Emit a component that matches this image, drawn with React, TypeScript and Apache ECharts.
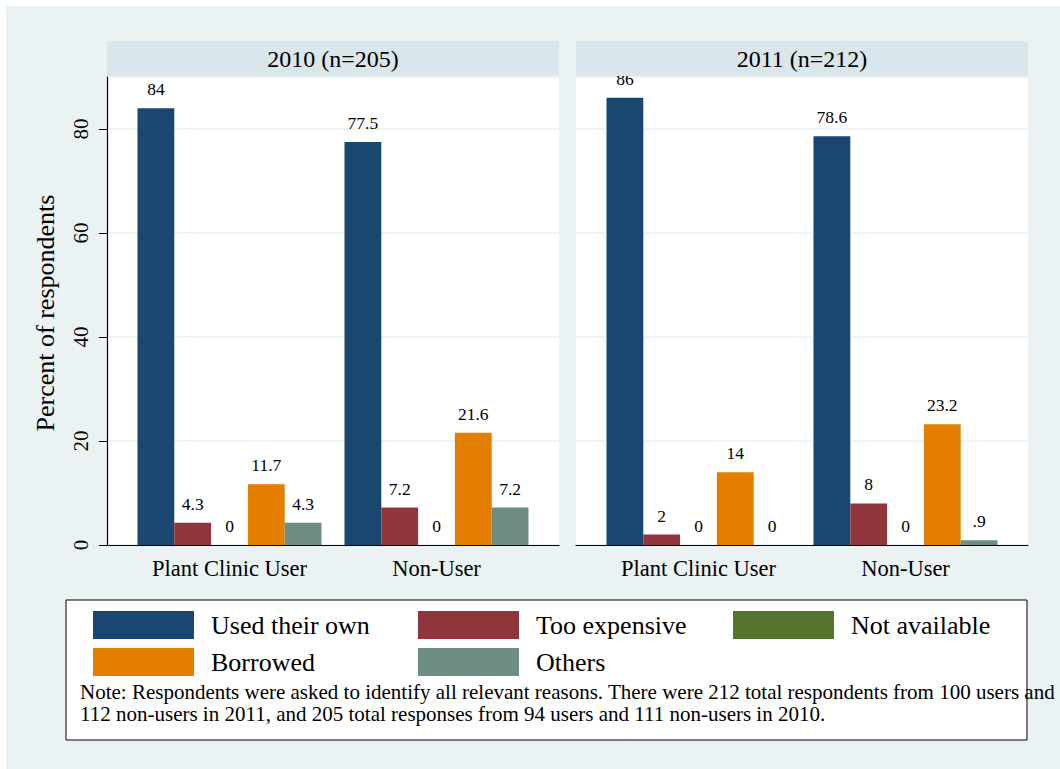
import React, { useEffect, useRef } from "react";
import * as echarts from "echarts";

const categories = ["Plant Clinic User", "Non-User"];
const seriesNames = ["Used their own", "Too expensive", "Not available", "Borrowed", "Others"];
const seriesColors = ["#1a476f", "#90353b", "#55752f", "#e37e00", "#6e8e84"];
const panelTitles = ["2010 (n=205)", "2011 (n=212)"];

const usedOwn2010 = [84, 77.5];
const tooExpensive2010 = [4.3, 7.2];
const notAvailable2010 = [0, 0];
const borrowed2010 = [11.7, 21.6];
const others2010 = [4.3, 7.2];

const usedOwn2011 = [86, 78.6];
const tooExpensive2011 = [2, 8];
const notAvailable2011 = [0, 0];
const borrowed2011 = [14, 23.2];
const others2011 = [0, 0.9];

const yTickValues = [0, 20, 40, 60, 80];

const noteLines = [
  "Note: Respondents were asked to identify all relevant reasons. There were 212 total respondents from 100 users and",
  "112 non-users in 2011, and 205 total responses from 94 users and 111 non-users in 2010.",
];

const FONT = "Liberation Serif, Times New Roman, serif";

export default function App() {
  const ref = useRef<HTMLDivElement>(null);

  useEffect(() => {
    if (!ref.current) return;
    const chart = echarts.init(ref.current, undefined, { renderer: "svg" });

    const panelData = [
      [usedOwn2010, tooExpensive2010, notAvailable2010, borrowed2010, others2010],
      [usedOwn2011, tooExpensive2011, notAvailable2011, borrowed2011, others2011],
    ];

    const panelLeft = [107, 576];
    const panelWidth = 452;
    const plotTop = 77;
    const plotHeight = 468;
    const barInset = 19;

    const grids: any[] = [];
    const xAxes: any[] = [];
    const yAxes: any[] = [];
    const series: any[] = [];

    // frame grids
    panelLeft.forEach((l, i) => {
      grids.push({
        left: l,
        top: plotTop,
        width: panelWidth,
        height: plotHeight,
        show: true,
        backgroundColor: "#ffffff",
        borderWidth: 0,
      });
      xAxes.push({
        gridIndex: i,
        type: "value",
        min: 0,
        max: 1,
        axisLine: { show: true, onZero: false, lineStyle: { color: "#000", width: 1.2 } },
        axisTick: { show: false },
        axisLabel: { show: false },
        splitLine: { show: false },
      });
      yAxes.push({
        gridIndex: i,
        type: "value",
        min: 0,
        max: 90,
        interval: 20,
        axisLine: { show: i === 0, lineStyle: { color: "#000", width: 1.2 } },
        axisTick: { show: i === 0, length: 8, lineStyle: { color: "#000" } },
        axisLabel: {
          show: i === 0,
          rotate: 90,
          margin: 16,
          fontSize: 21,
          fontFamily: FONT,
          color: "#000",
          showMaxLabel: false,
          formatter: (v: number) => (yTickValues.includes(v) ? String(v) : ""),
        },
        splitLine: { show: true, lineStyle: { color: "#eaf2f3", width: 1.5 } },
      });
    });

    // bar grids
    panelLeft.forEach((l, i) => {
      const gi = i + 2;
      grids.push({
        left: l + barInset,
        top: plotTop,
        width: panelWidth - 2 * barInset,
        height: plotHeight,
      });
      xAxes.push({
        gridIndex: gi,
        type: "category",
        data: categories,
        axisLine: { show: false },
        axisTick: { show: false },
        axisLabel: { fontSize: 22.5, fontFamily: FONT, color: "#000", margin: 12 },
      });
      yAxes.push({ gridIndex: gi, type: "value", min: 0, max: 90, show: false });
      panelData[i].forEach((vals, s) => {
        series.push({
          type: "bar",
          name: seriesNames[s],
          xAxisIndex: gi,
          yAxisIndex: gi,
          data: vals,
          barGap: "0%",
          barCategoryGap: "11.1%",
          itemStyle: { color: seriesColors[s] },
          label: {
            show: true,
            position: "top",
            distance: 10,
            fontSize: 17.5,
            fontFamily: FONT,
            color: "#000",
            formatter: (p: any) => {
              let t = String(p.value);
              if (t.startsWith("0.")) t = t.slice(1);
              return t;
            },
          },
        });
      });
    });

    const legendCommon = {
      orient: "vertical",
      top: 611,
      padding: 0,
      itemWidth: 101,
      itemHeight: 28,
      itemGap: 9,
      icon: "rect",
      selectedMode: false,
      textStyle: { fontSize: 26, fontFamily: FONT, color: "#000", padding: [0, 0, 0, 12] },
    };

    const graphics: any[] = [
      {
        type: "rect",
        z: -100,
        shape: { x: 6, y: 6, width: 1060, height: 770 },
        style: { fill: "#eaf2f3" },
        silent: true,
      },
      {
        type: "rect",
        z: 0,
        shape: { x: 66, y: 600, width: 961, height: 140 },
        style: { fill: "#ffffff", stroke: "#000", lineWidth: 1 },
        silent: true,
      },
      {
        type: "text",
        z: 10,
        x: 45,
        y: 313,
        rotation: Math.PI / 2,
        style: {
          text: "Percent of respondents",
          font: `26px ${FONT}`,
          fill: "#000",
          align: "center",
          verticalAlign: "middle",
        },
      },
      {
        type: "text",
        z: 10,
        x: 80,
        y: 681,
        style: {
          text: noteLines.join("\n"),
          font: `21px ${FONT}`,
          lineHeight: 22,
          fill: "#000",
          align: "left",
          verticalAlign: "top",
        },
      },
    ];
    panelLeft.forEach((l, i) => {
      graphics.push({
        type: "rect",
        z: 100,
        shape: { x: l, y: 41, width: panelWidth, height: 35 },
        style: { fill: "#d9e6eb" },
        silent: true,
      });
      graphics.push({
        type: "text",
        z: 101,
        x: l + panelWidth / 2,
        y: 58.5,
        style: {
          text: panelTitles[i],
          font: `24px ${FONT}`,
          fill: "#000",
          align: "center",
          verticalAlign: "middle",
        },
      });
    });

    chart.setOption({
      animation: false,
      backgroundColor: "#ffffff",
      grid: grids,
      xAxis: xAxes,
      yAxis: yAxes,
      series,
      legend: [
        { ...legendCommon, left: 93, data: [seriesNames[0], seriesNames[3]] },
        { ...legendCommon, left: 418, data: [seriesNames[1], seriesNames[4]] },
        { ...legendCommon, left: 733, data: [seriesNames[2]] },
      ],
      graphic: { elements: graphics },
    });

    return () => chart.dispose();
  }, []);

  return (
    <div
      ref={ref}
      style={{ position: "absolute", left: 0, top: 0, width: 1060, height: 769 }}
    />
  );
}
